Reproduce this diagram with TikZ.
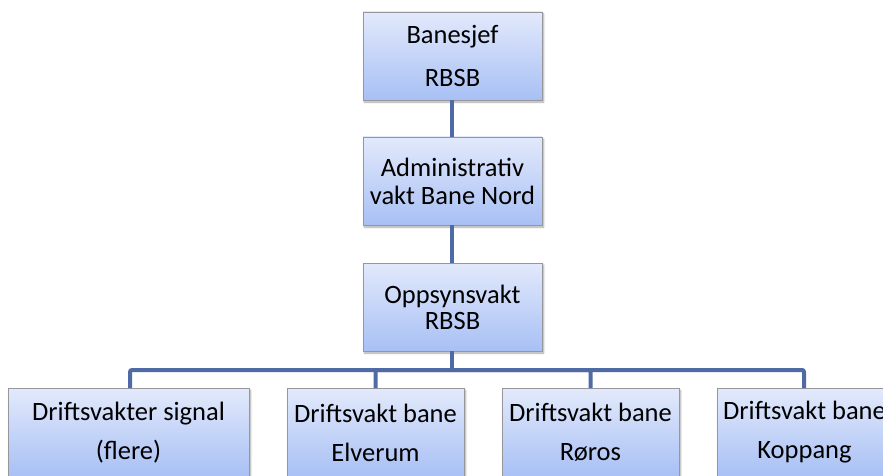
\documentclass[tikz,border=0pt]{standalone}
\usepackage{fontspec}
\setmainfont{Carlito}
\usetikzlibrary{shadows.blur}
\definecolor{boxtop}{RGB}{226,233,251}
\definecolor{boxbot}{RGB}{168,192,245}
\definecolor{boxborder}{RGB}{150,150,155}
\definecolor{linkcol}{RGB}{79,107,165}
\tikzset{
  orgbox/.style={rectangle, draw=boxborder, line width=0.9pt,
    top color=boxtop, bottom color=boxbot,
    minimum width=179pt, minimum height=88pt, inner sep=0pt, align=center,
    blur shadow={shadow blur steps=6, shadow xshift=1.5pt, shadow yshift=-2pt, shadow opacity=35},
    font=\fontsize{26.5}{28}\selectfont},
  link/.style={draw=linkcol, line width=4pt, rounded corners=2pt}
}
\begin{document}
\begin{tikzpicture}[x=1pt,y=-1pt]
\useasboundingbox (0,0) rectangle (883,476);
\coordinate (busc) at (452,370);
\node[orgbox, font=\fontsize{26.5}{43}\selectfont] (b1) at (452.5,56) {Banesjef\\RBSB};
\node[orgbox] (b2) at (452.5,181) {Administrativ\\vakt Bane Nord};
\node[orgbox, font=\fontsize{26.5}{26}\selectfont] (b3) at (452.5,307) {Oppsynsvakt\\RBSB};
\node[orgbox, minimum width=241pt, font=\fontsize{26.5}{39}\selectfont] (d1) at (128.5,432.5) {Driftsvakter signal\\(flere)};
\node[orgbox, minimum width=177pt, font=\fontsize{26.5}{39}\selectfont] (d2) at (375.5,432.5) {Driftsvakt bane\\Elverum};
\node[orgbox, minimum width=177pt, font=\fontsize{26.5}{39}\selectfont] (d3) at (590.5,432.5) {Driftsvakt bane\\Røros};
\node[orgbox, minimum width=175pt, font=\fontsize{26.5}{39}\selectfont] (d4) at (804.5,432.5) {Driftsvakt bane\\Koppang};
\draw[link] (b1.south -| busc) -- (b2.north -| busc);
\draw[link] (b2.south -| busc) -- (b3.north -| busc);
\draw[link] (b3.south -| busc) -- (busc);
\draw[link] (busc) -| ([xshift=1.5pt]d1.north);
\draw[link] (busc) -| (d2.north);
\draw[link] (busc) -| (d3.north);
\draw[link] (busc) -| ([xshift=-0.5pt]d4.north);
\end{tikzpicture}
\end{document}
